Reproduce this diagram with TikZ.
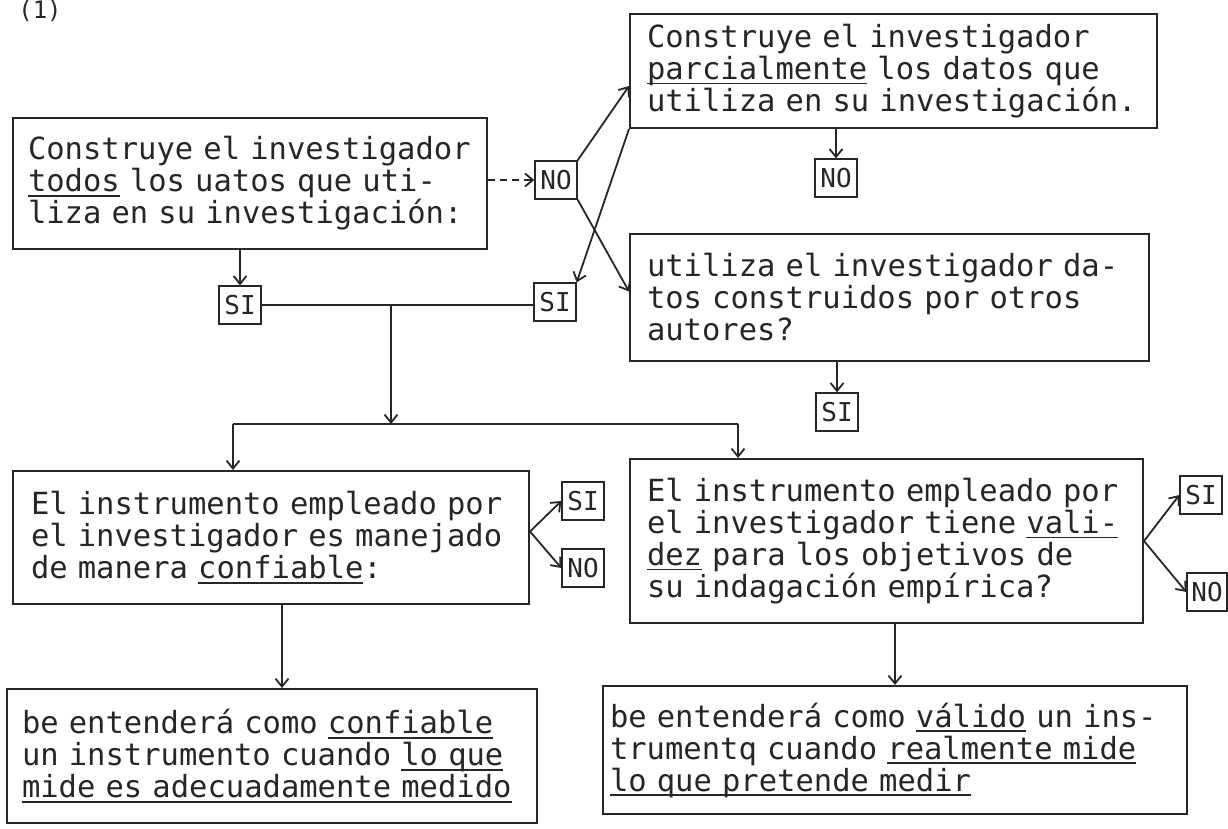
\documentclass[tikz,border=0pt]{standalone}
\usepackage{fontspec}
\setmonofont{DejaVu Sans Mono}
\usetikzlibrary{arrows.meta}

\newcommand{\subr}[1]{\leavevmode{\setbox0\hbox{#1}\rlap{\rule[-5pt]{\wd0}{1.8pt}}\box0}}

\begin{document}
\begin{tikzpicture}[x=1pt, y=1pt,
    >={Straight Barb[length=8pt,width=13pt]},
    txtbox/.style={draw=black!85, text=black!85, line width=2pt, anchor=north west, align=left,
        inner ysep=4pt, font=\ttfamily\fontsize{30.5}{32}\selectfont},
    tag/.style={draw=black!85, text=black!85, line width=1.3pt, minimum width=42pt,
        minimum height=38pt, inner sep=2pt, font=\ttfamily\fontsize{26}{26}\selectfont},
    link/.style={draw=black!85, line width=1.8pt}]

	\useasboundingbox (0,0) rectangle (1228,-828);

	\node[text=black!85, inner sep=0pt, font=\ttfamily\fontsize{24}{24}\selectfont] (num) at (40,-11) {(1)};

	% preguntas de arriba
	\node[txtbox, inner xsep=15pt, text width=444pt, minimum width=474pt, minimum height=131pt] (todos) at (12,-117)
	    {Construye el investigador\\\subr{todos} los uatos que uti-\\liza en su investigación:};
	\node[txtbox, inner xsep=17pt, text width=493pt, minimum width=527pt, minimum height=114pt] (parcial) at (629,-13)
	    {Construye el investigador\\\subr{parcialmente} los datos que\\utiliza en su investigación.};
	\node[txtbox, inner xsep=17pt, text width=485pt, minimum width=519pt, minimum height=127pt] (otros) at (629,-233)
	    {utiliza el investigador da-\\tos construidos por otros\\autores?};

	% confiabilidad y validez
	\node[txtbox, inner xsep=18pt, text width=480pt, minimum width=516pt, minimum height=133pt] (conf) at (12,-470)
	    {El instrumento empleado por\\el investigador es manejado\\de manera \subr{confiable}:};
	\node[txtbox, inner xsep=17pt, text width=479pt, minimum width=513pt, minimum height=164pt] (val) at (629,-458)
	    {El instrumento empleado por\\el investigador tiene \subr{vali-}\\\subr{dez} para los objetivos de\\su indagación empírica?};

	% definiciones
	\node[txtbox, inner xsep=15pt, text width=500pt, minimum width=530pt, minimum height=134pt] (defconf) at (6,-688)
	    {be entenderá como \subr{confiable}\\un instrumento cuando \subr{lo que}\\\subr{mide es adecuadamente medido}};
	\node[txtbox, inner xsep=7pt, text width=570pt, minimum width=584pt, minimum height=128pt] (defval) at (602,-685)
	    {be entenderá como \subr{válido} un ins-\\trumentq cuando \subr{realmente mide}\\\subr{lo que pretende medir}};

	% respuestas
	\node[tag] (noTodos) at (556,-180) {NO};
	\node[tag] (siTodos) at (240,-305) {SI};
	\node[tag] (siParcial) at (555,-302) {SI};
	\node[tag] (noParcial) at (836,-178) {NO};
	\node[tag] (siOtros) at (837,-412) {SI};
	\node[tag] (siConf) at (583,-501) {SI};
	\node[tag] (noConf) at (583,-568) {NO};
	\node[tag] (siVal) at (1201,-495) {SI};
	\node[tag, minimum width=40pt] (noVal) at (1207,-592) {NO};

	\coordinate (split) at (391,-424);
	\coordinate (bl) at (233,-424);
	\coordinate (br) at (738,-424);
	\coordinate (cF) at (282,0);

	% flechas
	\draw[link, dash pattern=on 7pt off 5pt, ->] (todos.east |- noTodos.west) -- (noTodos.west);
	\draw[link, ->] (noTodos.north east) -- ([yshift=-15pt]parcial.west);
	\draw[link, ->] (noTodos.south east) -- ([yshift=6pt]otros.west);
	\draw[link, ->] (parcial.south west) -- (siParcial.north east);
	\draw[link, ->] (todos.south -| siTodos) -- (siTodos.north);
	\draw[link] (siTodos.east) -- (siTodos.east -| siParcial.west);
	\draw[link, ->] (split |- siTodos.east) -- (split);
	\draw[link] (bl) -- (br);
	\draw[link, ->] (bl) -- (bl |- conf.north);
	\draw[link, ->] (br) -- (br |- val.north);
	\draw[link, ->] (noParcial |- parcial.south) -- (noParcial.north);
	\draw[link, ->] (siOtros |- otros.south) -- (siOtros.north);
	\draw[link, ->] ([yshift=6pt]conf.east) -- (siConf.west);
	\draw[link, ->] ([yshift=6pt]conf.east) -- (noConf.west);
	\draw[link, ->] (val.east) -- (siVal.west);
	\draw[link, ->] (val.east) -- (noVal.west);
	\draw[link, ->] (conf.south -| cF) -- (defconf.north -| cF);
	\draw[link, ->] (val.south -| defval.north) -- (defval.north);

\end{tikzpicture}
\end{document}
